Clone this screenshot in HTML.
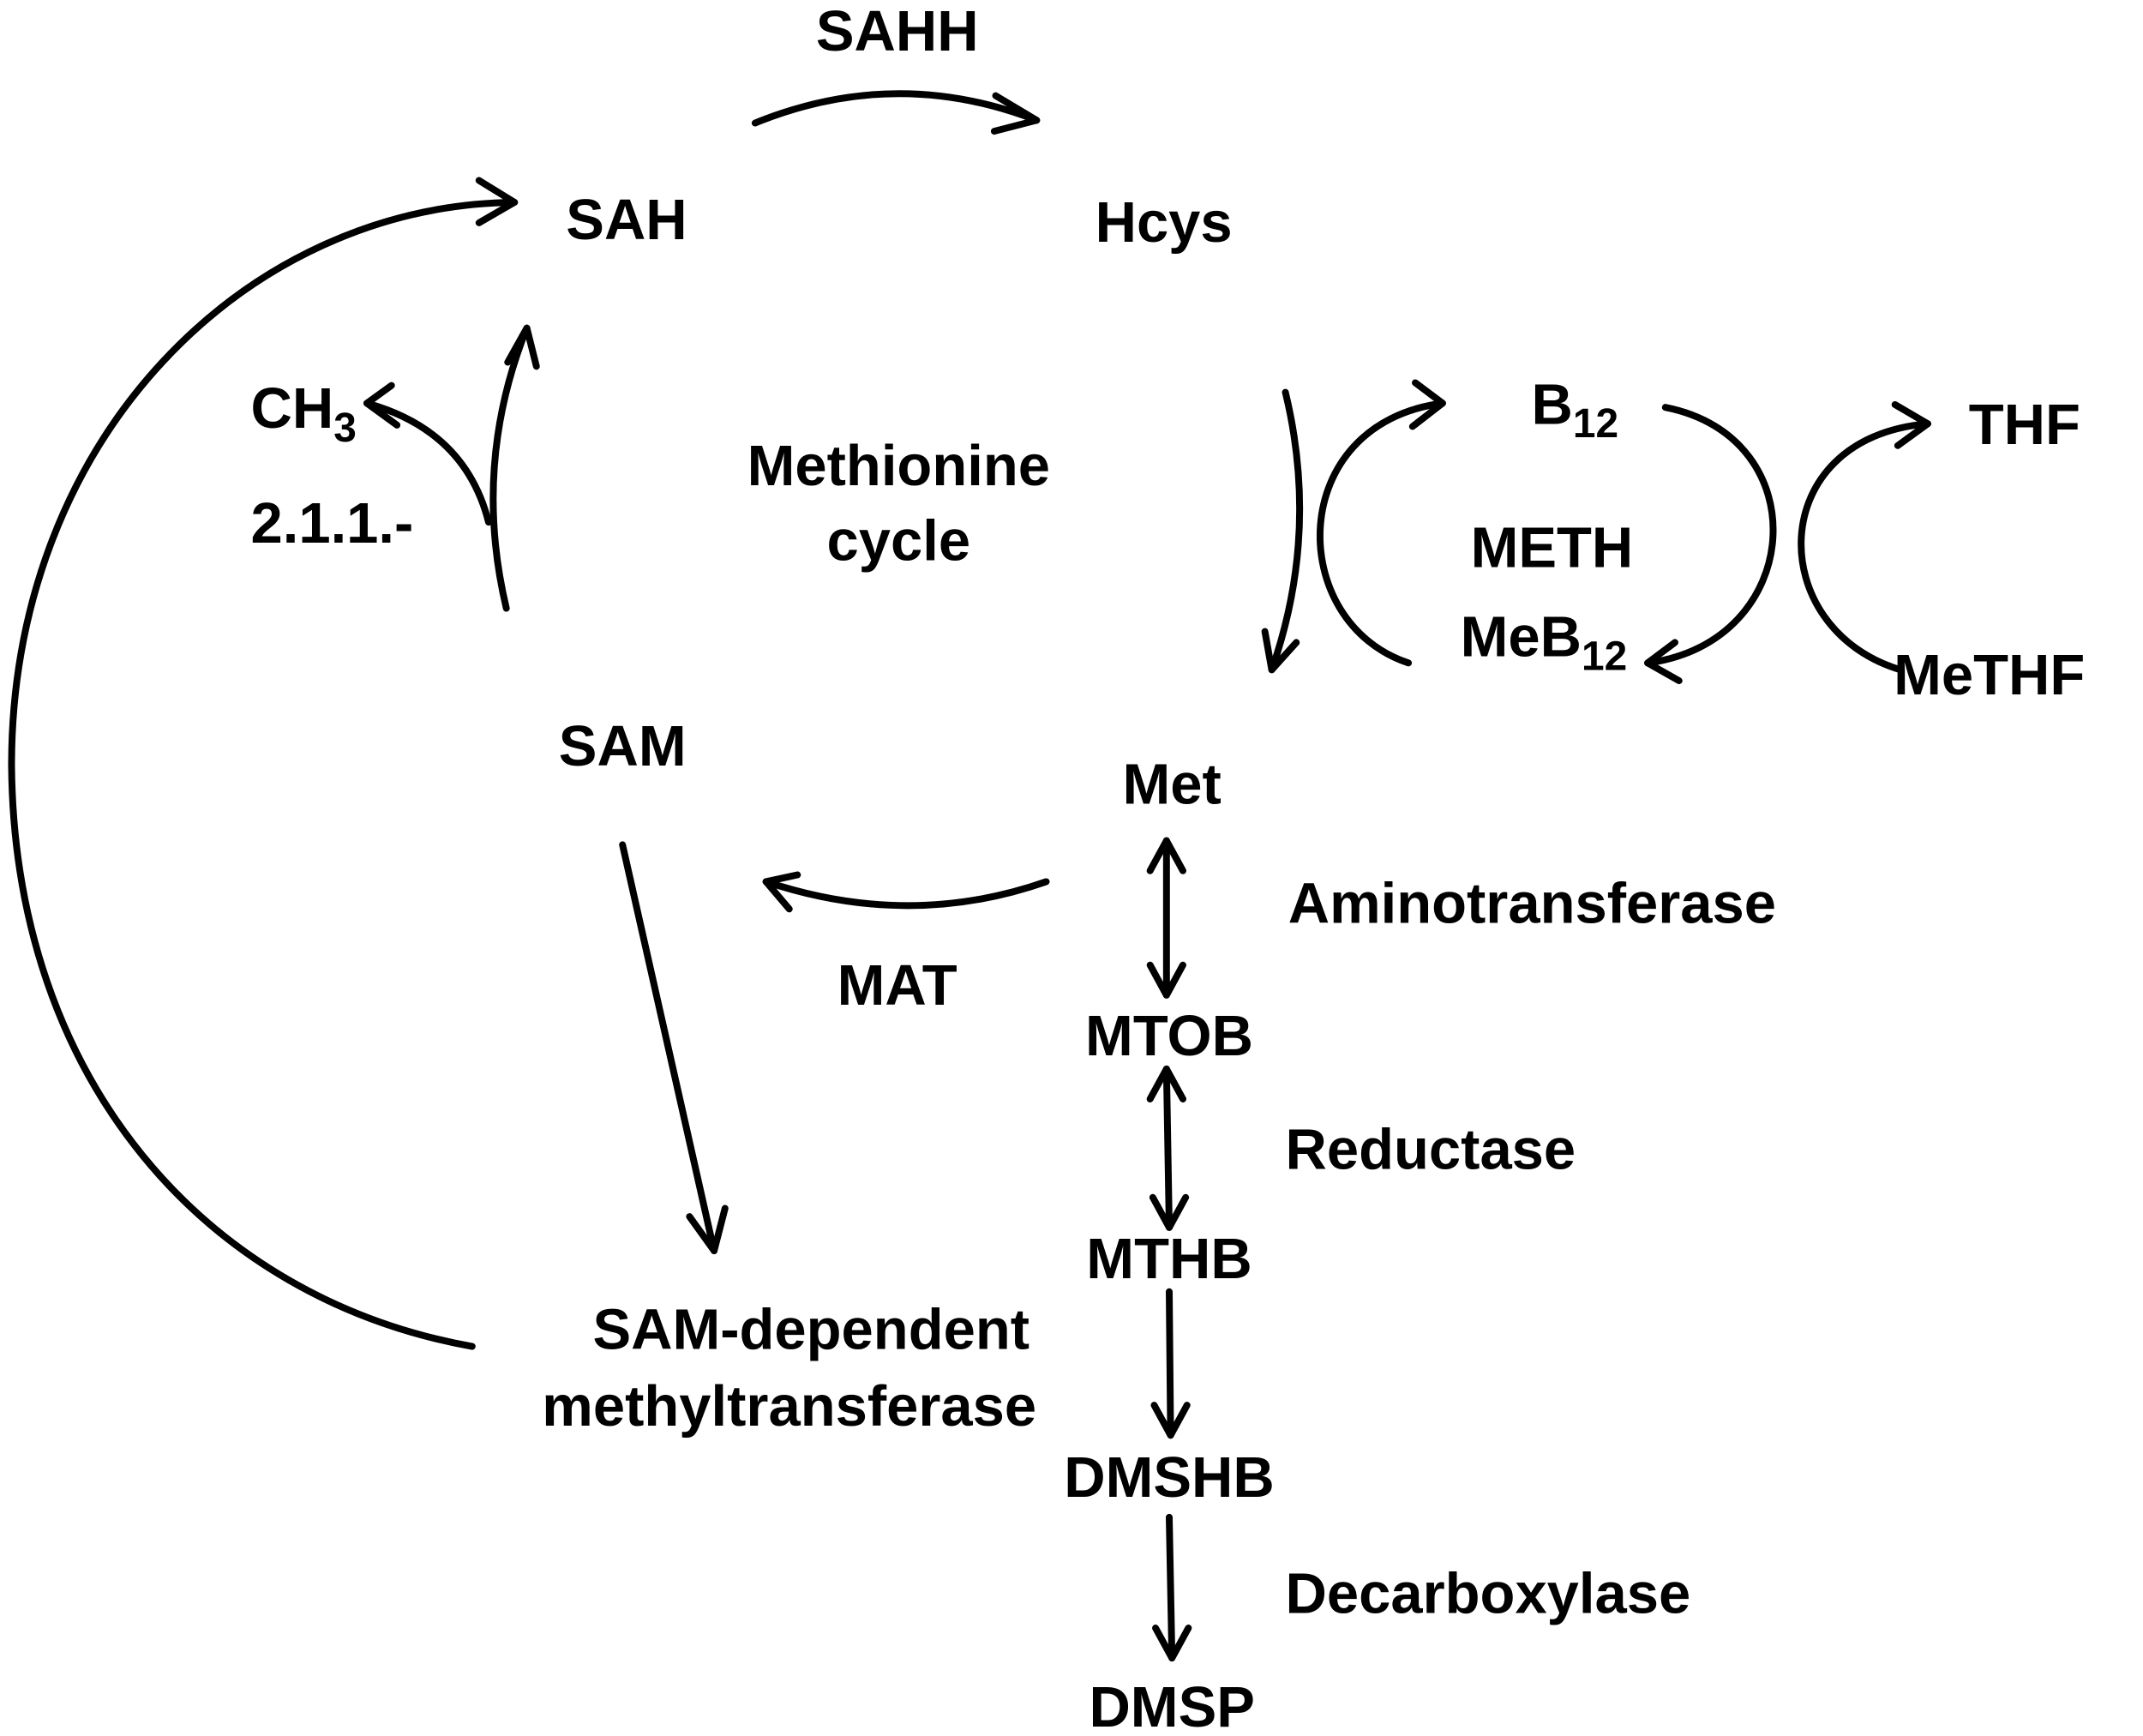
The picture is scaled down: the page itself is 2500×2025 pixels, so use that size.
<!DOCTYPE html>
<html><head><meta charset="utf-8"><style>
html,body{margin:0;padding:0;background:#fff;}
svg{display:block;}
text{font-family:"Liberation Sans",Arial,sans-serif;font-weight:bold;font-size:42px;fill:#000;}
.l{fill:none;stroke:#000;stroke-width:5;stroke-linecap:round;stroke-linejoin:round;}
</style></head><body>
<svg width="2500" height="2025" viewBox="0 0 1567 1270" xmlns="http://www.w3.org/2000/svg">
<!-- SAHH -->
<text x="656" y="37" text-anchor="middle">SAHH</text>
<path class="l" d="M552 90 Q655 48 758 88"/>
<path class="l" d="M728 70 L758 88 L727 96"/>
<text x="458" y="175" text-anchor="middle">SAH</text>
<text x="851" y="177" text-anchor="middle">Hcys</text>
<!-- big left arc -->
<path class="l" d="M345 985 C150 950 10 790 8 560 C8 320 180 150 376 148"/>
<path class="l" d="M350 132 L376 148 L350 163"/>
<!-- CH3 branch -->
<text x="183" y="313">CH<tspan font-size="30" dy="10">3</tspan></text>
<text x="183" y="397">2.1.1.-</text>
<path class="l" d="M370 445 Q345 340 385 240"/>
<path class="l" d="M371 265 L385 240 L392 268"/>
<path class="l" d="M357 382 Q340 315 268 295"/>
<path class="l" d="M286 282 L268 295 L290 311"/>
<text x="657" y="355" text-anchor="middle">Methionine</text>
<text x="657" y="410" text-anchor="middle">cycle</text>
<!-- METH -->
<text x="1120" y="310">B<tspan font-size="30" dy="10">12</tspan></text>
<text x="1135" y="415" text-anchor="middle">METH</text>
<text x="1068" y="480">MeB<tspan font-size="30" dy="10">12</tspan></text>
<text x="1440" y="325">THF</text>
<text x="1385" y="508">MeTHF</text>
<path class="l" d="M940 287 Q965 390 930 490"/>
<path class="l" d="M925 462 L930 490 L948 470"/>
<path class="l" d="M1030 485 C940 455 940 310 1055 295"/>
<path class="l" d="M1035 280 L1055 295 L1033 312"/>
<path class="l" d="M1218 298 C1330 320 1320 470 1205 485"/>
<path class="l" d="M1225 470 L1205 485 L1228 498"/>
<path class="l" d="M1390 490 C1290 460 1290 320 1410 310"/>
<path class="l" d="M1386 296 L1410 310 L1388 326"/>
<!-- SAM / Met -->
<text x="455" y="560" text-anchor="middle">SAM</text>
<text x="857" y="588" text-anchor="middle">Met</text>
<path class="l" d="M765 645 Q665 680 560 645"/>
<path class="l" d="M583 640 L560 645 L577 665"/>
<text x="656" y="735" text-anchor="middle">MAT</text>
<path class="l" d="M853 615 L853 728"/>
<path class="l" d="M841 637 L853 615 L865 637 M841 706 L853 728 L865 706"/>
<text x="855" y="772" text-anchor="middle">MTOB</text>
<text x="942" y="675">Aminotransferase</text>
<path class="l" d="M853 782 L855 898"/>
<path class="l" d="M841 804 L853 782 L865 804 M843 876 L855 898 L867 876"/>
<text x="940" y="855">Reductase</text>
<text x="855" y="935" text-anchor="middle">MTHB</text>
<path class="l" d="M855 945 L856 1050"/>
<path class="l" d="M844 1028 L856 1050 L868 1028"/>
<text x="855" y="1095" text-anchor="middle">DMSHB</text>
<path class="l" d="M855 1110 L857 1213"/>
<path class="l" d="M845 1191 L857 1213 L869 1191"/>
<text x="940" y="1180">Decarboxylase</text>
<text x="857" y="1263" text-anchor="middle">DMSP</text>
<!-- SAM down -->
<path class="l" d="M455 618 L522 915"/>
<path class="l" d="M504 890 L522 915 L530 884"/>
<text x="593" y="987" text-anchor="middle">SAM-dependent</text>
<text x="577" y="1043" text-anchor="middle">methyltransferase</text>
</svg>
</body></html>
